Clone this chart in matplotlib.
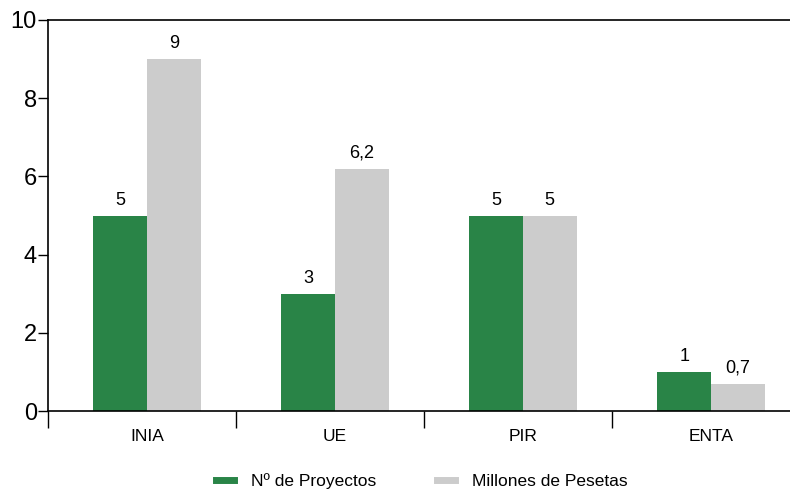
import matplotlib
matplotlib.use("Agg")
import matplotlib.pyplot as plt
import numpy as np

categories = ["INIA", "UE", "PIR", "ENTA"]
proyectos = [5, 3, 5, 1]
millones = [9, 6.2, 5, 0.7]
proy_labels = ["5", "3", "5", "1"]
mill_labels = ["9", "6,2", "5", "0,7"]
yticks = [0, 2, 4, 6, 8, 10]

green = "#298447"
gray = "#cccccc"

plt.rcParams['font.family'] = ['Liberation Sans', 'DejaVu Sans']

W, H = 790, 491
fig = plt.figure(figsize=(W / 100, H / 100), dpi=100)
ax = fig.add_axes([48 / W, (H - 411) / H, (W - 48) / W, (411 - 20) / H])

x = np.arange(len(categories))
bw = 0.285
b1 = ax.bar(x - bw / 2, proyectos, bw, color=green, label="Nº de Proyectos")
b2 = ax.bar(x + bw / 2, millones, bw, color=gray, label="Millones de Pesetas")

for rect, lab in zip(b1, proy_labels):
    ax.annotate(lab, (rect.get_x() + rect.get_width() / 2, rect.get_height()),
                xytext=(0, 5), textcoords="offset points", ha="center", va="bottom",
                fontsize=13)
for rect, lab in zip(b2, mill_labels):
    ax.annotate(lab, (rect.get_x() + rect.get_width() / 2, rect.get_height()),
                xytext=(0, 5), textcoords="offset points", ha="center", va="bottom",
                fontsize=13)

ax.set_ylim(0, 10)
left = -99 / 188
ax.set_xlim(left, left + (W - 48) / 188)
ax.set_yticks(yticks)
ax.set_yticklabels([str(v) for v in yticks], fontsize=17)
ax.tick_params(axis="y", length=7, width=1, pad=1)

ax.set_xticks(x)
ax.set_xticklabels(categories, fontsize=12.5)
ax.tick_params(axis="x", which="major", length=0, pad=13)
ax.set_xticks([left + i for i in range(4)], minor=True)
ax.tick_params(axis="x", which="minor", length=12, width=1)

ax.spines["right"].set_visible(False)
for s in ["left", "bottom", "top"]:
    ax.spines[s].set_linewidth(1.2)

handles = [plt.Line2D([], [], color=green, lw=5),
           plt.Line2D([], [], color=gray, lw=5)]
fig.legend(handles, ["Nº de Proyectos", "Millones de Pesetas"],
           loc="center", bbox_to_anchor=(422 / W, 1 - 481 / H), ncol=2,
           frameon=False, fontsize=12.5, handlelength=1.0, columnspacing=3.5,
           handletextpad=1.0)

fig.savefig("out.png", dpi=100)
